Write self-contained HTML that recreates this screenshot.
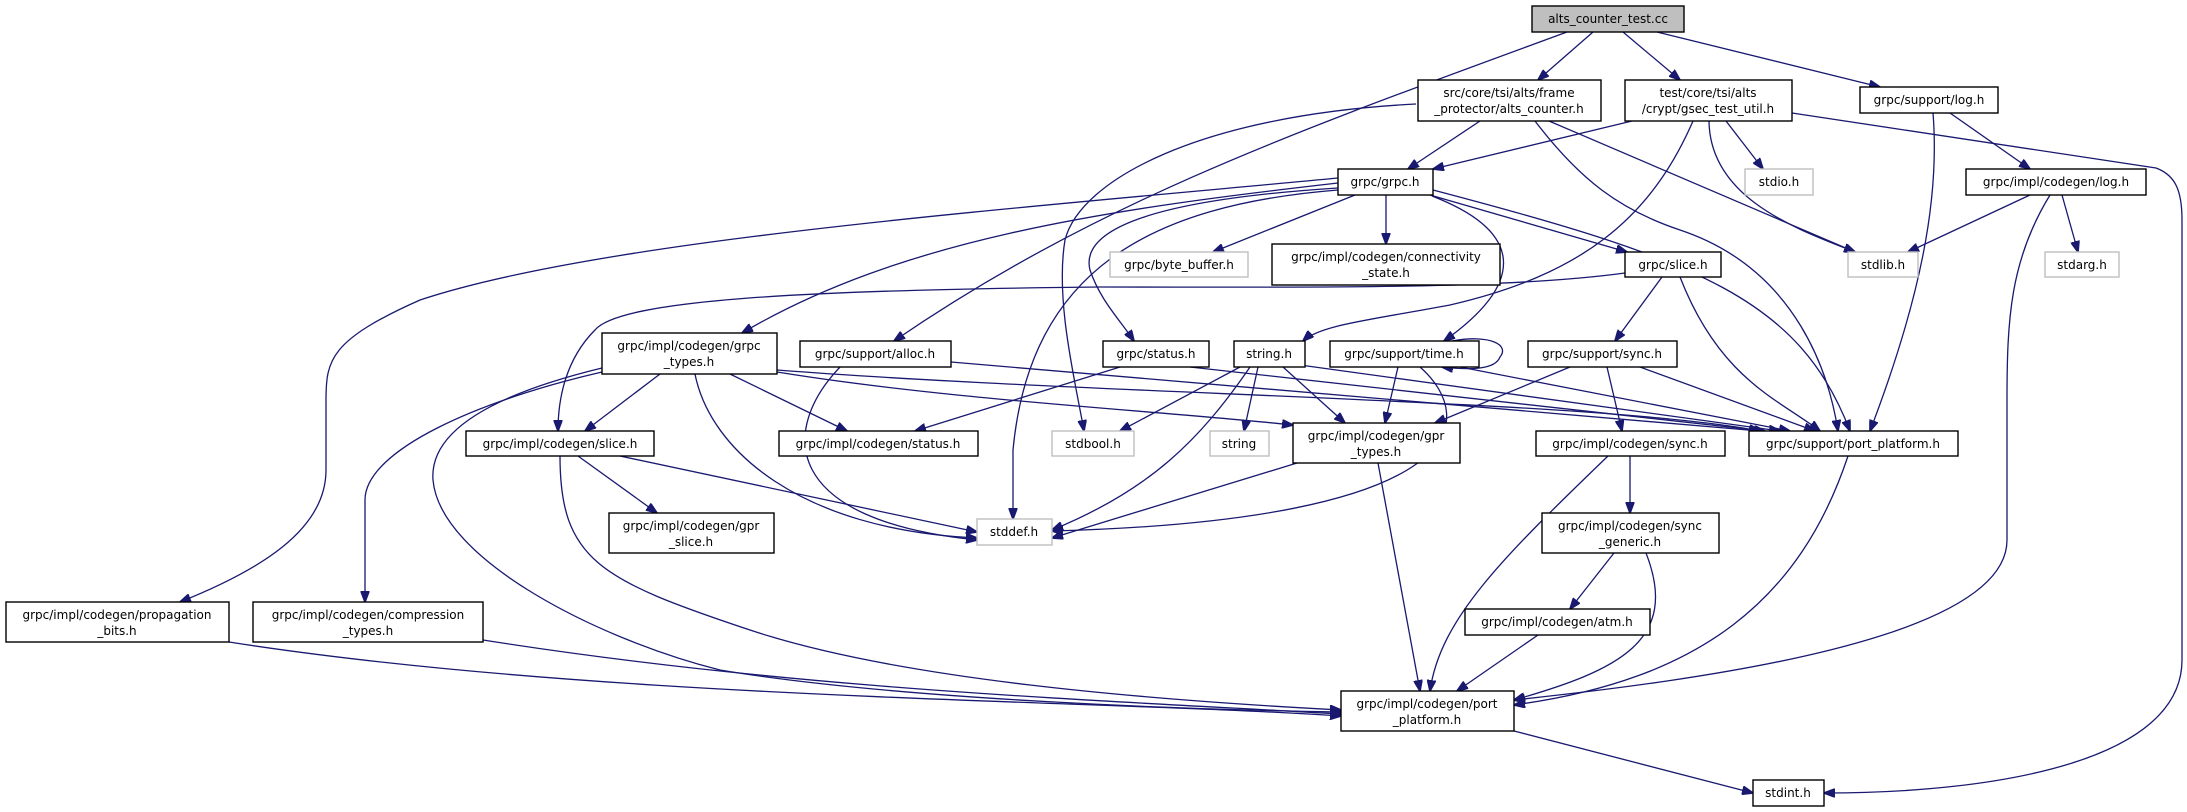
<!DOCTYPE html>
<html><head><meta charset="utf-8"><style>
html,body{margin:0;padding:0;background:#fff;}
svg{display:block;}
text{font-family:"DejaVu Sans",sans-serif;font-size:12px;fill:#000;}
.n{fill:#fff;stroke:#000;stroke-width:1.4;}
.g{fill:#fff;stroke:#bfbfbf;stroke-width:1.4;}
.r{fill:#bfbfbf;stroke:#000;stroke-width:1.4;}
.e{fill:none;stroke:#191970;stroke-width:1.3;marker-end:url(#a);}
</style></head><body>
<svg width="2187" height="812" viewBox="0 0 2187 812" xmlns="http://www.w3.org/2000/svg">
<defs><marker id="a" markerUnits="userSpaceOnUse" markerWidth="12" markerHeight="9" refX="11" refY="4.5" orient="auto"><path d="M0,0 L12,4.5 L0,9 z" fill="#191970" stroke="#191970"/></marker></defs>
<g>
<path class="e" d="M1593,32 L1538,80"/>
<path class="e" d="M1623,32 L1680,80"/>
<path class="e" d="M1657,32 L1880,87"/>
<path class="e" d="M1567,32 C1300,130 1100,200 894,341"/>
<path class="e" d="M1480,121 L1408,169"/>
<path class="e" d="M1416,104 C1200,115 1080,180 1065,240 C1055,300 1075,380 1084,431"/>
<path class="e" d="M1549,121 L1855,252"/>
<path class="e" d="M1535,121 C1580,180 1620,210 1680,230 C1800,270 1830,380 1838,431"/>
<path class="e" d="M1632,121 L1433,169"/>
<path class="e" d="M1693,121 C1650,220 1580,275 1450,305 C1370,320 1320,325 1303,341"/>
<path class="e" d="M1726,121 L1763,169"/>
<path class="e" d="M1709,121 C1710,200 1800,230 1855,252"/>
<path class="e" d="M1792,113 L2156,168 C2175,175 2182,190 2182,220 L2182,660 C2182,760 2000,793 1824,793"/>
<path class="e" d="M1950,113 L2030,169"/>
<path class="e" d="M1933,113 C1940,200 1920,300 1870,431"/>
<path class="e" d="M2030,195 L1908,252"/>
<path class="e" d="M2062,195 L2078,252"/>
<path class="e" d="M2050,195 C2010,260 2007,320 2007,400 L2007,540 C2007,640 1700,680 1514,700"/>
<path class="e" d="M1338,178 C1000,210 600,240 420,300 C330,340 326,360 326,400 L326,470 C326,530 260,570 180,602"/>
<path class="e" d="M1338,183 C1100,210 900,240 742,333"/>
<path class="e" d="M1625,273 C1500,290 1300,287 1100,287 C800,290 620,300 595,330 C565,360 558,400 558,431"/>
<path class="e" d="M1355,195 L1213,252"/>
<path class="e" d="M1386,195 L1386,244"/>
<path class="e" d="M1430,195 L1627,252"/>
<path class="e" d="M1432,196 C1520,230 1530,280 1444,341"/>
<path class="e" d="M1338,188 C1150,200 1080,230 1090,270 C1100,300 1120,320 1134,341"/>
<path class="e" d="M1338,190 C1150,205 1030,270 1013,450 L1013,519"/>
<path class="e" d="M1433,190 C1700,260 1800,300 1850,431"/>
<path class="e" d="M602,372 C480,400 365,450 365,500 L365,602"/>
<path class="e" d="M602,368 C470,400 430,440 433,480 C440,560 600,640 720,670 C900,700 1200,710 1341,712"/>
<path class="e" d="M660,374 L585,431"/>
<path class="e" d="M695,374 C710,450 800,530 977,538"/>
<path class="e" d="M730,374 L847,431"/>
<path class="e" d="M777,372 C950,400 1150,410 1293,425"/>
<path class="e" d="M777,370 C1100,395 1600,400 1760,431"/>
<path class="e" d="M840,367 C780,430 780,520 977,540"/>
<path class="e" d="M951,362 L1760,431"/>
<path class="e" d="M1120,367 L915,431"/>
<path class="e" d="M1190,367 L1765,431"/>
<path class="e" d="M1240,367 L1120,431"/>
<path class="e" d="M1258,367 L1244,431"/>
<path class="e" d="M1283,367 L1345,423"/>
<path class="e" d="M1250,367 C1200,440 1150,490 1052,530"/>
<path class="e" d="M1300,365 L1780,431"/>
<path class="e" d="M1452,341 C1490,334 1510,345 1500,357 C1495,370 1470,370 1442,367"/>
<path class="e" d="M1398,367 L1385,423"/>
<path class="e" d="M1420,367 C1480,420 1470,520 1052,531"/>
<path class="e" d="M1460,367 L1790,431"/>
<path class="e" d="M1570,367 L1435,423"/>
<path class="e" d="M1607,367 L1622,431"/>
<path class="e" d="M1640,367 L1815,431"/>
<path class="e" d="M1662,277 L1615,341"/>
<path class="e" d="M1680,277 C1720,380 1780,400 1820,431"/>
<path class="e" d="M578,456 L657,513"/>
<path class="e" d="M620,456 L977,532"/>
<path class="e" d="M560,456 C560,560 600,580 750,630 C900,680 1150,700 1341,710"/>
<path class="e" d="M1297,463 L1052,538"/>
<path class="e" d="M1378,463 L1420,691"/>
<path class="e" d="M1630,456 L1630,513"/>
<path class="e" d="M1608,456 C1500,560 1440,620 1430,691"/>
<path class="e" d="M1614,553 L1570,609"/>
<path class="e" d="M1646,553 C1680,640 1620,670 1514,700"/>
<path class="e" d="M1538,635 L1457,691"/>
<path class="e" d="M1848,456 C1800,600 1700,680 1514,705"/>
<path class="e" d="M229,642 C600,700 1100,700 1341,716"/>
<path class="e" d="M483,640 C800,690 1100,700 1341,714"/>
<path class="e" d="M1514,731 L1753,793"/>
</g>
<g text-anchor="middle">
<rect class="r" x="1532" y="6" width="152" height="26"/><text x="1608" y="23">alts_counter_test.cc</text>
<rect class="n" x="1418" y="80" width="183" height="41"/><text x="1509" y="97">src/core/tsi/alts/frame</text><text x="1509" y="113">_protector/alts_counter.h</text>
<rect class="n" x="1625" y="80" width="167" height="41"/><text x="1708" y="97">test/core/tsi/alts</text><text x="1708" y="113">/crypt/gsec_test_util.h</text>
<rect class="n" x="1860" y="87" width="138" height="26"/><text x="1929" y="104">grpc/support/log.h</text>
<rect class="n" x="1338" y="169" width="95" height="26"/><text x="1385" y="186">grpc/grpc.h</text>
<rect class="g" x="1745" y="169" width="68" height="26"/><text x="1779" y="186">stdio.h</text>
<rect class="n" x="1966" y="169" width="180" height="26"/><text x="2056" y="186">grpc/impl/codegen/log.h</text>
<rect class="g" x="1110" y="252" width="138" height="25"/><text x="1179" y="269">grpc/byte_buffer.h</text>
<rect class="n" x="1272" y="244" width="228" height="41"/><text x="1386" y="261">grpc/impl/codegen/connectivity</text><text x="1386" y="277">_state.h</text>
<rect class="n" x="1625" y="252" width="96" height="25"/><text x="1673" y="269">grpc/slice.h</text>
<rect class="g" x="1848" y="252" width="70" height="25"/><text x="1883" y="269">stdlib.h</text>
<rect class="g" x="2045" y="252" width="74" height="25"/><text x="2082" y="269">stdarg.h</text>
<rect class="n" x="602" y="333" width="175" height="41"/><text x="689" y="350">grpc/impl/codegen/grpc</text><text x="689" y="366">_types.h</text>
<rect class="n" x="800" y="341" width="151" height="26"/><text x="875" y="358">grpc/support/alloc.h</text>
<rect class="n" x="1103" y="341" width="106" height="26"/><text x="1156" y="358">grpc/status.h</text>
<rect class="n" x="1234" y="341" width="71" height="26"/><text x="1269" y="358">string.h</text>
<rect class="n" x="1330" y="341" width="149" height="26"/><text x="1404" y="358">grpc/support/time.h</text>
<rect class="n" x="1528" y="341" width="149" height="26"/><text x="1602" y="358">grpc/support/sync.h</text>
<rect class="n" x="466" y="431" width="188" height="25"/><text x="560" y="448">grpc/impl/codegen/slice.h</text>
<rect class="n" x="779" y="431" width="199" height="25"/><text x="878" y="448">grpc/impl/codegen/status.h</text>
<rect class="g" x="1052" y="431" width="82" height="25"/><text x="1093" y="448">stdbool.h</text>
<rect class="g" x="1210" y="431" width="59" height="25"/><text x="1239" y="448">string</text>
<rect class="n" x="1293" y="423" width="167" height="40"/><text x="1376" y="440">grpc/impl/codegen/gpr</text><text x="1376" y="456">_types.h</text>
<rect class="n" x="1536" y="431" width="189" height="25"/><text x="1630" y="448">grpc/impl/codegen/sync.h</text>
<rect class="n" x="1749" y="431" width="209" height="25"/><text x="1853" y="448">grpc/support/port_platform.h</text>
<rect class="n" x="609" y="513" width="165" height="40"/><text x="691" y="530">grpc/impl/codegen/gpr</text><text x="691" y="546">_slice.h</text>
<rect class="g" x="977" y="519" width="75" height="26"/><text x="1014" y="536">stddef.h</text>
<rect class="n" x="1542" y="513" width="177" height="40"/><text x="1630" y="530">grpc/impl/codegen/sync</text><text x="1630" y="546">_generic.h</text>
<rect class="n" x="6" y="602" width="223" height="40"/><text x="117" y="619">grpc/impl/codegen/propagation</text><text x="117" y="635">_bits.h</text>
<rect class="n" x="253" y="602" width="230" height="40"/><text x="368" y="619">grpc/impl/codegen/compression</text><text x="368" y="635">_types.h</text>
<rect class="n" x="1465" y="609" width="185" height="26"/><text x="1557" y="626">grpc/impl/codegen/atm.h</text>
<rect class="n" x="1341" y="691" width="173" height="40"/><text x="1427" y="708">grpc/impl/codegen/port</text><text x="1427" y="724">_platform.h</text>
<rect class="n" x="1753" y="780" width="71" height="26"/><text x="1788" y="797">stdint.h</text>
</g>
</svg>
</body></html>
